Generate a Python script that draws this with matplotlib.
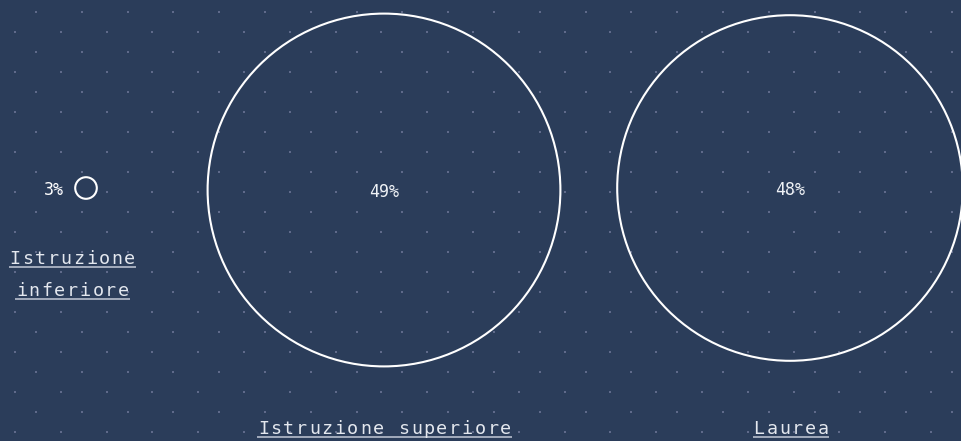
import matplotlib.pyplot as plt
from matplotlib.patches import Circle
import numpy as np

# data
label_lines = [['Istruzione', 'inferiore'], ['Istruzione superiore'], ['Laurea']]
shares = [3, 49, 48]
share_labels = ['3%', '49%', '48%']

# layout (pixels, y downward)
BG = '#2b3d5a'
W, H = 961, 441
centers_x = [86, 384, 790]
centers_y = [188, 190, 188]
label_x = [72.5, 384.5, 791]
label_base = [264, 434, 434]
px_per_pct = 3.6
char_adv = 12.75
line_gap = 32.5

fig = plt.figure(figsize=(9.61, 4.41), dpi=100, facecolor=BG)
ax = fig.add_axes([0, 0, 1, 1])
ax.set_facecolor(BG)
ax.set_xlim(0, W)
ax.set_ylim(H, 0)
ax.axis('off')

# dotted background pattern
step = 45.8
for k, y in enumerate(np.arange(11.7, H, 20)):
    x0 = 36 if k % 2 == 0 else 15
    xs = np.arange(x0, W, step)
    ax.scatter(xs, np.full(len(xs), y), s=2.8, marker='s', color='#5f6a8a', linewidths=0)

mono = 'DejaVu Sans Mono'

def spaced_text(cx, y, s):
    # monospace text with extra letter spacing + underline
    width = len(s) * char_adv
    left = cx - width / 2
    for i, ch in enumerate(s):
        ax.text(left + (i + 0.5) * char_adv, y, ch, ha='center', va='baseline',
                fontsize=13.2, family=mono, color='#e4e8ef')
    ax.plot([left, left + width], [y + 2.8, y + 2.8], color='#c3c9d6', lw=1.1,
            solid_capstyle='butt')

for i, v in enumerate(shares):
    r = v * px_per_pct
    ax.add_patch(Circle((centers_x[i], centers_y[i]), r, fill=False, ec='white', lw=1.5))
    if r < 30:
        ax.text(centers_x[i] - r - 11, centers_y[i] + 7, share_labels[i], ha='right', va='baseline',
                fontsize=12, family=mono, color='white')
    else:
        ax.text(centers_x[i], centers_y[i] + 7, share_labels[i], ha='center', va='baseline',
                fontsize=12, family=mono, color='#eef1f5')
    for j, line in enumerate(label_lines[i]):
        spaced_text(label_x[i], label_base[i] + j * line_gap, line)

fig.savefig('out.png', dpi=100, facecolor=BG)
